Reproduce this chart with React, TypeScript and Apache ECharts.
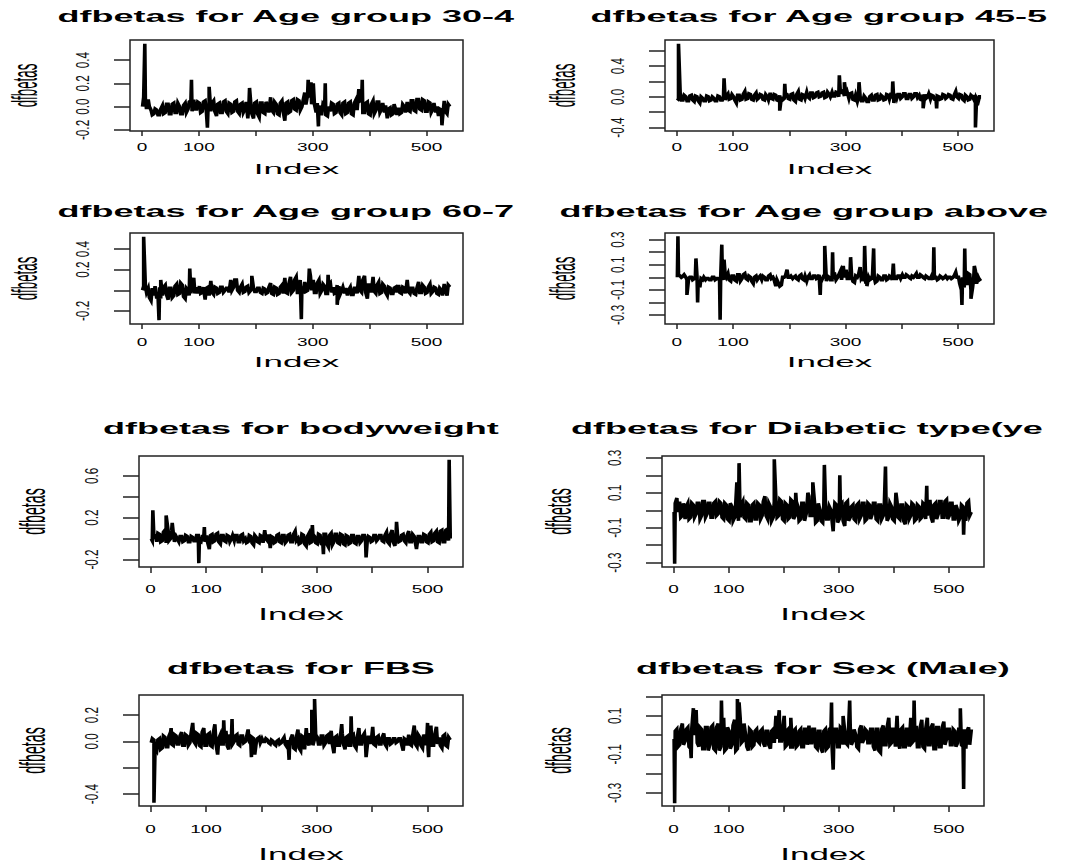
import React, { useEffect, useRef } from "react";
import * as echarts from "echarts";

// ---------------- data ----------------
// "A" values sit at Index 1, 6, 11, ... 541 ; "B" values at Index 3, 8, 13, ... 538 ;
// spikes are [Index, value]
const aStart = 1;
const bStart = 3;
const step = 5;

const a1 = [
  0.0, 0.07, 0.06, -0.03, -0.06, -0.03, -0.07, 0.01, -0.05, 0.02,
  -0.06, 0.03, -0.05, 0.0, -0.06, 0.03, -0.02, 0.05, 0.06, -0.02,
  0.03, -0.04, 0.05, -0.03, -0.04, 0.05, -0.08, 0.03, -0.05, 0.05,
  -0.06, 0.02, -0.04, 0.05, -0.06, 0.03, -0.02, -0.1, 0.04, -0.1,
  0.04, -0.09, 0.03, -0.06, 0.0, 0.08, -0.05, 0.02, -0.07, 0.05,
  -0.12, 0.04, -0.04, 0.06, -0.03, 0.05, 0.0, 0.12, 0.1, 0.08,
  0.2, -0.05, 0.01, -0.06, 0.0, -0.08, -0.04, 0.02, -0.05, 0.03,
  -0.07, 0.04, -0.05, 0.04, -0.07, 0.06, 0.15, 0.06, -0.05, 0.04,
  -0.07, 0.05, -0.03, 0.04, -0.02, -0.05, -0.1, -0.01, -0.06, -0.03,
  -0.01, -0.05, 0.0, 0.04, -0.04, 0.05, -0.04, 0.06, -0.03, 0.05,
  -0.04, 0.03, -0.02, -0.05, -0.08, -0.03, 0.05, -0.06, 0.0,
];
const b1 = [
  0.08, -0.02, 0.0, -0.07, -0.02, -0.07, -0.02, -0.06, 0.02, -0.06,
  0.02, -0.05, 0.03, -0.06, 0.01, -0.05, 0.04, -0.04, -0.02, 0.04,
  -0.05, 0.04, -0.03, 0.02, 0.03, -0.04, 0.02, -0.05, 0.04, -0.04,
  0.03, -0.05, 0.04, -0.04, 0.02, -0.05, 0.04, 0.02, -0.06, 0.03,
  -0.06, 0.03, -0.05, 0.04, -0.05, -0.03, 0.04, -0.06, 0.03, -0.04,
  0.03, -0.05, 0.05, -0.02, 0.06, -0.03, 0.05, 0.02, 0.13, 0.02,
  0.02, 0.03, -0.06, 0.02, -0.07, 0.0, 0.03, -0.06, 0.02, -0.05,
  0.03, -0.06, 0.03, -0.06, 0.03, -0.03, 0.05, -0.05, 0.03, -0.06,
  0.02, -0.06, 0.04, -0.05, 0.03, 0.01, -0.02, -0.07, 0.02, -0.07,
  -0.06, 0.02, -0.05, -0.03, 0.05, -0.03, 0.06, -0.02, 0.06, -0.04,
  0.04, -0.05, 0.03, 0.0, -0.02, -0.1, -0.04, 0.02,
];
const spikes1 = [[5, 0.54], [87, 0.23], [115, -0.18], [118, 0.17], [189, 0.16], [292, 0.23], [297, 0.21], [310, -0.17], [322, 0.2], [387, 0.23], [527, -0.16]];

const a2 = [
  -0.05, 0.05, -0.04, 0.0, -0.05, 0.02, -0.06, 0.0, -0.08, -0.02,
  -0.05, 0.0, -0.04, -0.02, -0.05, 0.0, -0.04, -0.04, 0.04, -0.02,
  0.0, -0.08, 0.02, -0.03, 0.07, -0.02, 0.03, -0.04, 0.05, -0.01,
  0.02, -0.04, 0.0, 0.05, -0.03, 0.02, -0.05, 0.0, -0.02, 0.03,
  -0.03, 0.04, -0.06, 0.07, -0.04, 0.02, 0.06, -0.02, 0.05, 0.0,
  0.06, 0.01, 0.06, 0.0, 0.03, 0.06, 0.01, 0.05, 0.04, 0.07,
  0.02, -0.02, 0.05, -0.04, -0.06, 0.0, -0.05, -0.02, -0.06, 0.02,
  -0.04, 0.03, -0.03, 0.0, -0.03, 0.02, 0.05, -0.08, -0.02, 0.03,
  0.0, 0.04, -0.02, 0.03, 0.0, 0.04, 0.02, -0.04, 0.03, 0.0,
  -0.03, 0.01, -0.04, 0.0, -0.02, 0.02, 0.0, 0.02, -0.03, 0.07,
  -0.02, 0.02, -0.05, 0.0, -0.03, 0.0, 0.02, -0.06, 0.0,
];
const b2 = [
  -0.03, -0.04, 0.02, -0.05, 0.01, -0.04, 0.01, -0.05, 0.0, -0.05,
  0.01, -0.05, 0.0, -0.05, 0.01, -0.04, 0.0, 0.01, -0.03, 0.03,
  -0.04, 0.02, -0.04, 0.03, -0.03, 0.04, -0.03, 0.02, -0.03, 0.03,
  -0.03, 0.03, -0.04, -0.02, 0.03, -0.04, 0.02, -0.04, 0.04, -0.02,
  0.03, -0.04, 0.03, -0.03, 0.03, -0.02, 0.0, 0.05, -0.01, 0.05,
  0.0, 0.05, -0.01, 0.06, 0.0, 0.01, 0.06, 0.0, 0.08, 0.01,
  0.06, 0.04, -0.03, 0.02, 0.0, -0.05, 0.01, -0.06, 0.0, -0.04,
  0.02, -0.04, 0.02, -0.04, 0.03, -0.03, -0.02, 0.04, 0.03, -0.02,
  0.04, -0.02, 0.03, -0.02, 0.04, -0.01, -0.03, 0.03, -0.02, 0.04,
  0.02, -0.03, 0.01, -0.03, 0.03, -0.02, 0.03, -0.02, 0.02, 0.0,
  0.03, -0.03, 0.02, -0.04, 0.02, -0.03, -0.02, 0.0,
];
const spikes2 = [[3, 0.69], [84, 0.24], [183, -0.18], [192, 0.17], [289, 0.28], [298, 0.19], [324, 0.19], [384, 0.2], [438, -0.15], [462, -0.15], [531, -0.4]];

const a3 = [
  0.0, 0.04, 0.02, -0.1, -0.05, -0.08, 0.03, -0.05, 0.05, -0.09,
  0.02, -0.05, 0.06, -0.03, 0.05, -0.08, 0.0, -0.03, 0.12, 0.03,
  0.04, -0.02, -0.09, 0.03, 0.09, -0.04, 0.02, -0.02, 0.03, 0.0,
  0.02, 0.1, 0.03, 0.1, -0.02, 0.06, -0.01, 0.04, 0.0, 0.02,
  -0.01, 0.02, -0.03, 0.01, -0.02, 0.07, -0.04, 0.02, -0.03, 0.05,
  0.12, -0.03, 0.13, 0.0, 0.13, -0.02, 0.04, 0.08, 0.0, 0.14,
  0.1, -0.02, 0.1, 0.0, 0.04, -0.03, 0.07, 0.03, -0.02, 0.04,
  0.0, -0.03, -0.05, 0.03, -0.04, 0.02, 0.14, -0.02, 0.14, -0.08,
  0.05, 0.13, -0.03, 0.08, -0.02, 0.04, -0.05, 0.02, -0.03, 0.03,
  0.05, -0.03, 0.02, 0.1, -0.03, 0.02, -0.04, 0.08, -0.02, 0.03,
  -0.02, 0.06, -0.01, 0.02, -0.04, 0.0, 0.06, -0.05, 0.03,
];
const b3 = [
  0.04, -0.02, -0.07, 0.02, 0.04, -0.02, -0.08, 0.03, -0.04, 0.02,
  -0.07, 0.04, -0.04, 0.07, -0.06, 0.02, -0.05, 0.06, -0.03, -0.03,
  -0.03, 0.03, 0.02, -0.05, -0.02, 0.03, -0.03, 0.03, -0.02, 0.02,
  -0.02, 0.0, 0.1, 0.0, 0.03, -0.02, 0.03, -0.02, 0.03, -0.01,
  0.02, -0.02, 0.02, -0.03, 0.03, -0.03, 0.03, -0.04, 0.03, -0.03,
  -0.02, 0.06, -0.02, 0.1, -0.02, 0.1, -0.03, -0.01, 0.08, 0.0,
  -0.02, 0.07, -0.03, 0.06, -0.03, 0.05, -0.02, -0.03, 0.05, -0.04,
  0.03, 0.02, 0.0, -0.04, 0.02, -0.03, 0.0, 0.1, -0.02, 0.05,
  -0.02, -0.01, 0.05, -0.03, 0.06, -0.02, 0.03, -0.03, 0.02, -0.02,
  -0.02, 0.03, -0.03, -0.01, 0.02, -0.03, 0.02, -0.02, 0.05, -0.03,
  0.03, -0.03, 0.03, -0.03, 0.02, -0.05, 0.0, 0.05,
];
const spikes3 = [[3, 0.52], [30, -0.29], [33, 0.1], [84, 0.21], [193, 0.14], [280, -0.28], [294, 0.21], [327, 0.15], [343, -0.14]];

const a4 = [
  0.0, 0.01, 0.01, 0.0, -0.01, 0.0, -0.01, 0.0, -0.08, -0.02,
  -0.02, -0.01, -0.02, 0.0, -0.01, -0.02, 0.0, 0.02, 0.03, -0.03,
  0.01, -0.03, 0.02, -0.01, 0.03, -0.02, 0.0, -0.05, 0.01, 0.0,
  -0.02, 0.0, -0.02, 0.02, 0.0, -0.07, -0.05, -0.06, 0.0, 0.06,
  0.0, -0.01, 0.01, -0.02, 0.02, -0.02, -0.03, 0.02, -0.01, 0.01,
  0.0, 0.0, 0.01, -0.03, 0.0, -0.02, 0.02, 0.0, 0.05, 0.09,
  0.06, -0.01, 0.0, -0.04, 0.0, 0.08, 0.01, -0.05, 0.0, -0.01,
  0.0, -0.03, 0.0, -0.02, 0.01, -0.01, 0.0, 0.02, -0.01, 0.01,
  0.02, 0.0, 0.01, -0.01, 0.0, 0.03, 0.0, 0.01, -0.01, 0.0,
  -0.01, -0.02, 0.0, -0.01, 0.0, 0.0, -0.01, 0.0, 0.0, 0.04,
  0.0, -0.1, -0.08, -0.06, 0.02, -0.08, 0.05, 0.0, -0.01,
];
const b4 = [
  0.02, 0.0, 0.02, -0.02, 0.0, -0.02, 0.01, -0.03, -0.01, 0.0,
  -0.01, -0.02, 0.0, -0.02, -0.01, 0.0, -0.02, 0.0, -0.02, 0.01,
  -0.02, 0.02, -0.03, 0.02, -0.01, 0.01, -0.03, 0.0, -0.02, 0.01,
  0.01, -0.02, 0.01, -0.01, -0.02, -0.02, -0.07, 0.0, 0.01, 0.0,
  0.01, 0.0, -0.01, 0.01, -0.01, 0.01, 0.0, -0.01, 0.01, -0.01,
  0.02, -0.02, 0.02, 0.01, -0.02, 0.01, -0.02, 0.02, -0.02, 0.0,
  -0.01, 0.03, -0.03, 0.01, 0.02, -0.01, -0.03, 0.02, -0.02, 0.02,
  -0.04, 0.01, -0.02, 0.01, -0.02, 0.01, -0.02, -0.01, 0.01, -0.01,
  0.0, 0.02, 0.0, 0.01, 0.01, 0.0, 0.02, 0.0, 0.01, -0.01,
  0.01, 0.0, -0.02, 0.01, -0.01, 0.01, 0.0, -0.01, 0.01, 0.0,
  -0.05, 0.0, -0.02, 0.03, -0.1, 0.0, -0.05, -0.02,
];
const spikes4 = [[2, 0.327], [18, -0.14], [34, 0.15], [37, -0.2], [77, -0.337], [80, 0.26], [84, 0.14], [255, -0.14], [263, 0.25], [277, 0.2], [309, 0.16], [334, 0.25], [338, -0.07], [350, 0.23], [385, 0.11], [457, 0.24], [507, -0.22], [512, 0.23], [523, -0.17], [529, 0.09]];

const a5 = [
  0.0, 0.0, -0.03, 0.04, -0.02, 0.08, 0.1, 0.0, 0.05, 0.02,
  -0.03, 0.02, -0.02, 0.02, -0.03, 0.01, -0.02, 0.03, -0.03, 0.02,
  0.03, -0.1, 0.04, -0.02, 0.05, -0.05, 0.03, -0.03, 0.02, 0.0,
  -0.02, 0.03, -0.03, 0.04, 0.0, -0.03, 0.02, -0.06, 0.01, -0.04,
  0.02, 0.08, -0.02, -0.09, 0.01, -0.03, 0.04, -0.04, 0.03, -0.02,
  0.04, -0.03, 0.07, 0.0, -0.04, 0.03, -0.07, 0.05, -0.03, 0.02,
  -0.05, 0.03, -0.06, 0.04, -0.08, 0.05, -0.03, 0.04, -0.05, 0.03,
  -0.06, 0.02, -0.04, 0.03, -0.05, 0.02, -0.02, 0.03, -0.03, 0.01,
  -0.02, 0.03, 0.0, 0.03, -0.03, 0.06, -0.05, 0.08, -0.07, 0.02,
  -0.02, 0.04, -0.04, 0.07, -0.03, 0.02, -0.06, 0.02, -0.03, 0.03,
  -0.04, 0.06, -0.02, 0.07, -0.04, 0.08, -0.03, 0.09, 0.0,
];
const b5 = [
  -0.02, 0.04, 0.05, -0.03, 0.06, -0.04, -0.02, 0.08, -0.03, 0.0,
  0.02, -0.03, 0.03, -0.03, 0.02, -0.02, 0.03, -0.02, 0.02, -0.03,
  -0.04, 0.03, -0.03, 0.04, -0.03, 0.03, -0.02, 0.03, -0.03, 0.03,
  0.03, -0.03, 0.03, -0.02, -0.04, 0.03, -0.04, 0.03, -0.03, 0.03,
  -0.04, 0.0, 0.04, 0.02, -0.04, 0.03, -0.03, 0.03, -0.04, 0.03,
  -0.03, 0.04, -0.02, -0.05, 0.04, -0.05, 0.02, -0.04, 0.04, -0.04,
  0.04, -0.05, 0.04, -0.05, 0.03, -0.06, 0.04, -0.04, 0.04, -0.05,
  0.03, -0.05, 0.03, -0.04, 0.02, -0.04, 0.03, -0.02, 0.02, -0.03,
  0.03, -0.02, 0.03, -0.02, 0.03, -0.03, 0.04, -0.03, 0.02, -0.03,
  0.03, -0.02, 0.03, -0.03, 0.04, -0.04, 0.02, -0.03, 0.04, -0.03,
  0.04, -0.03, 0.05, -0.03, 0.07, -0.03, 0.08, -0.02,
];
const spikes5 = [[4, 0.27], [28, 0.22], [39, 0.15], [87, -0.235], [97, 0.11], [292, 0.13], [312, -0.15], [389, -0.18], [444, 0.16], [480, -0.1], [539, 0.755]];

const a6 = [
  -0.01, 0.07, 0.05, -0.03, -0.05, 0.04, -0.04, 0.03, -0.02, 0.04,
  -0.03, 0.05, -0.02, 0.04, -0.04, 0.05, -0.02, 0.04, -0.05, 0.03,
  -0.06, 0.02, -0.04, 0.0, -0.04, 0.05, -0.05, 0.03, -0.06, 0.04,
  -0.05, 0.03, -0.03, 0.08, -0.05, 0.02, -0.04, 0.06, -0.03, 0.05,
  -0.06, 0.03, -0.04, 0.05, -0.03, 0.02, -0.05, 0.04, -0.02, 0.08,
  -0.03, 0.05, -0.06, 0.0, -0.07, 0.04, -0.05, 0.0, -0.04, 0.03,
  -0.05, 0.04, -0.09, 0.05, -0.04, 0.03, -0.06, 0.04, -0.03, 0.04,
  -0.05, 0.03, -0.02, 0.04, -0.06, 0.03, -0.03, 0.05, -0.04, 0.02,
  -0.06, 0.05, -0.05, 0.03, -0.08, 0.02, -0.03, 0.03, -0.05, 0.02,
  -0.04, 0.03, -0.03, 0.05, -0.07, 0.04, -0.02, 0.05, -0.04, 0.06,
  -0.03, 0.04, -0.05, 0.0, -0.04, 0.02, -0.06, 0.05, -0.01,
];
const b6 = [
  0.04, -0.01, -0.04, 0.04, 0.02, -0.05, 0.04, -0.04, 0.04, -0.05,
  0.05, -0.04, 0.04, -0.04, 0.04, -0.03, 0.05, -0.04, 0.04, -0.05,
  0.04, -0.06, 0.04, -0.06, 0.03, -0.04, 0.04, -0.06, 0.03, -0.05,
  0.04, -0.05, 0.05, -0.03, 0.04, -0.06, 0.05, -0.04, 0.06, -0.05,
  0.04, -0.05, 0.06, -0.05, 0.05, -0.06, 0.04, -0.06, 0.05, -0.03,
  0.05, -0.07, 0.04, -0.06, 0.03, -0.05, 0.02, -0.06, 0.04, -0.07,
  0.03, -0.06, 0.04, -0.06, 0.02, -0.05, 0.03, -0.05, 0.04, -0.06,
  0.04, -0.05, 0.04, -0.05, 0.03, -0.05, 0.04, -0.06, 0.04, -0.05,
  0.03, -0.04, 0.03, -0.06, 0.03, -0.05, 0.04, -0.06, 0.03, -0.05,
  0.04, -0.05, 0.05, -0.04, 0.03, -0.05, 0.05, -0.04, 0.05, -0.05,
  0.04, -0.05, 0.03, -0.06, 0.03, -0.04, 0.04, -0.03,
];
const spikes6 = [[2, -0.306], [115, 0.16], [119, 0.27], [183, 0.292], [222, 0.1], [244, 0.1], [253, 0.16], [274, 0.26], [290, -0.12], [302, 0.2], [385, 0.25], [404, 0.1], [460, 0.14], [527, -0.14]];

const a7 = [
  -0.01, 0.01, -0.07, 0.02, -0.05, 0.03, -0.04, 0.07, -0.03, 0.04,
  -0.02, 0.07, -0.03, 0.04, -0.01, 0.14, -0.02, 0.05, -0.04, 0.1,
  -0.03, 0.06, -0.04, 0.13, -0.1, 0.05, -0.02, 0.08, -0.06, 0.04,
  0.0, 0.05, -0.03, 0.04, 0.0, 0.09, -0.02, 0.02, 0.0, 0.03,
  0.02, 0.0, 0.01, -0.02, 0.0, -0.03, 0.01, -0.01, 0.03, -0.04,
  -0.02, 0.05, -0.06, 0.09, -0.07, 0.03, 0.1, -0.03, 0.05, 0.02,
  0.03, -0.02, 0.04, -0.01, 0.05, 0.08, -0.09, 0.04, -0.03, 0.06,
  -0.06, 0.04, -0.03, 0.05, -0.05, 0.1, -0.02, 0.06, -0.04, 0.03,
  0.11, -0.03, 0.04, -0.02, 0.06, -0.04, 0.02, -0.01, 0.02, 0.0,
  0.02, -0.07, 0.01, 0.05, -0.03, 0.12, -0.04, 0.03, -0.05, 0.02,
  -0.06, 0.12, -0.03, 0.11, 0.03, -0.05, 0.05, -0.04, 0.01,
];
const b7 = [
  0.02, -0.05, 0.01, -0.06, 0.04, -0.04, 0.04, -0.02, 0.05, -0.02,
  0.04, -0.03, 0.05, -0.03, 0.06, 0.0, 0.06, -0.03, 0.07, -0.03,
  0.05, -0.03, 0.06, -0.02, 0.02, -0.02, 0.05, -0.03, 0.04, -0.02,
  0.04, -0.02, 0.04, -0.01, 0.03, 0.0, 0.03, -0.1, 0.02, -0.01,
  0.0, 0.02, -0.01, 0.01, -0.02, 0.0, -0.02, 0.01, -0.02, 0.01,
  0.02, -0.05, 0.03, -0.05, 0.04, -0.06, 0.0, 0.05, -0.03, 0.05,
  -0.02, 0.04, -0.03, 0.04, -0.02, -0.02, 0.03, -0.03, 0.05, -0.02,
  0.03, -0.03, 0.04, -0.03, 0.03, -0.02, 0.04, -0.02, 0.03, -0.02,
  -0.02, 0.03, -0.02, 0.03, -0.02, 0.02, -0.02, 0.02, -0.01, 0.02,
  -0.02, 0.02, -0.03, -0.02, 0.04, -0.02, 0.05, -0.03, 0.05, -0.03,
  0.04, -0.03, 0.05, -0.02, -0.03, 0.04, -0.03, 0.03,
];
const spikes7 = [[6, -0.466], [37, 0.1], [132, 0.16], [147, 0.17], [182, -0.12], [250, -0.14], [291, 0.24], [296, 0.322], [345, 0.13], [362, 0.19], [389, -0.12], [500, 0.14], [502, -0.12]];

const a8 = [
  -0.02, 0.03, -0.05, 0.06, -0.03, 0.04, -0.07, 0.14, 0.13, -0.06,
  0.03, -0.07, 0.04, -0.05, 0.05, -0.08, 0.06, -0.06, 0.09, -0.07,
  0.02, -0.05, 0.08, -0.07, 0.09, -0.03, 0.0, -0.08, 0.02, -0.05,
  0.03, -0.04, 0.03, -0.06, 0.02, -0.07, 0.03, 0.1, 0.1, -0.03,
  0.1, -0.05, 0.04, -0.07, 0.03, -0.05, 0.03, -0.06, 0.03, 0.05,
  -0.04, 0.03, -0.07, 0.02, -0.09, 0.03, -0.06, 0.04, -0.04, 0.03,
  -0.06, 0.03, 0.02, -0.05, 0.04, -0.03, 0.0, -0.07, 0.05, -0.02,
  0.02, -0.04, 0.03, -0.08, 0.03, -0.09, 0.05, -0.05, 0.09, -0.04,
  0.03, 0.1, -0.07, 0.04, -0.06, 0.03, 0.09, -0.03, 0.04, -0.06,
  0.08, -0.07, 0.09, -0.05, 0.06, -0.07, 0.04, -0.06, 0.07, -0.02,
  0.03, -0.05, 0.02, -0.04, 0.03, -0.06, -0.07, 0.04, 0.03,
];
const b8 = [
  0.02, -0.06, 0.03, -0.05, 0.03, -0.06, 0.03, 0.0, -0.04, 0.04,
  -0.07, 0.04, -0.08, 0.04, -0.07, 0.04, -0.08, 0.05, -0.08, 0.04,
  -0.07, 0.05, -0.08, 0.04, -0.04, 0.06, -0.06, 0.03, -0.06, 0.02,
  -0.03, 0.02, -0.04, 0.02, -0.05, 0.02, -0.04, -0.02, -0.03, 0.03,
  -0.06, 0.03, -0.07, 0.02, -0.06, 0.02, -0.06, 0.03, -0.05, -0.04,
  0.03, -0.06, 0.02, -0.07, 0.02, -0.07, 0.03, -0.06, 0.03, -0.06,
  0.04, -0.05, -0.04, 0.04, -0.05, 0.03, -0.06, 0.03, -0.04, 0.03,
  -0.04, 0.03, -0.06, 0.03, -0.08, 0.03, -0.05, 0.04, -0.05, 0.03,
  -0.06, -0.04, 0.03, -0.06, 0.03, -0.06, -0.04, 0.04, -0.06, 0.04,
  -0.06, 0.03, -0.05, 0.04, -0.07, 0.04, -0.06, 0.04, -0.05, 0.03,
  -0.05, 0.03, -0.06, 0.03, -0.05, 0.03, 0.02, -0.05,
];
const spikes8 = [[2, -0.355], [32, -0.12], [87, 0.18], [116, 0.188], [119, 0.17], [192, 0.13], [213, 0.09], [287, 0.17], [290, -0.18], [308, 0.1], [320, 0.18], [437, 0.18], [521, 0.14], [527, -0.28]];

const titles = [
  "dfbetas for Age group 30-44",
  "dfbetas for Age group 45-59",
  "dfbetas for Age group 60-74",
  "dfbetas for Age group above 75",
  "dfbetas for bodyweight",
  "dfbetas for Diabetic type(yes)",
  "dfbetas for FBS",
  "dfbetas for Sex (Male)",
];

const xTicks = [0, 100, 200, 300, 400, 500];
const xTickLabels = [0, 100, 300, 500];
const xLabel = "Index";
const yLabel = "dfbetas";

const yTicks = [
  [-0.2, 0.0, 0.2, 0.4],
  [-0.4, -0.2, 0.0, 0.2, 0.4, 0.6],
  [-0.2, 0.0, 0.2, 0.4],
  [-0.3, -0.2, -0.1, 0.0, 0.1, 0.2, 0.3],
  [-0.2, 0.0, 0.2, 0.4, 0.6],
  [-0.3, -0.2, -0.1, 0.0, 0.1, 0.2, 0.3],
  [-0.4, -0.2, 0.0, 0.2],
  [-0.3, -0.2, -0.1, 0.0, 0.1, 0.2],
];
const yTickLabels = [
  [-0.2, 0.0, 0.2, 0.4],
  [-0.4, 0.0, 0.4],
  [-0.2, 0.2, 0.4],
  [-0.3, -0.1, 0.1, 0.3],
  [-0.2, 0.2, 0.6],
  [-0.3, -0.1, 0.1, 0.3],
  [-0.4, 0.0, 0.2],
  [-0.3, -0.1, 0.1],
];
const yRanges = [
  [-0.209, 0.572],
  [-0.445, 0.74],
  [-0.327, 0.556],
  [-0.372, 0.353],
  [-0.272, 0.79],
  [-0.325, 0.311],
  [-0.491, 0.352],
  [-0.369, 0.209],
];
const xRange = [-21, 564];

const aVals = [a1, a2, a3, a4, a5, a6, a7, a8];
const bVals = [b1, b2, b3, b4, b5, b6, b7, b8];
const spikes = [spikes1, spikes2, spikes3, spikes4, spikes5, spikes6, spikes7, spikes8];

// ---------------- layout ----------------
const grids = [
  { left: 130, top: 40, width: 333, height: 91 },
  { left: 665, top: 40, width: 329, height: 91 },
  { left: 130, top: 233, width: 333, height: 91 },
  { left: 665, top: 233, width: 329, height: 91 },
  { left: 139, top: 456, width: 324, height: 111 },
  { left: 662, top: 456, width: 322, height: 111 },
  { left: 139, top: 695, width: 324, height: 111 },
  { left: 662, top: 695, width: 322, height: 111 },
];
const titleY = [17, 212, 429, 669];
const xLabY = [147, 342, 589, 829];
const indexY = [169, 362, 614, 854];
const xTickScale = [0.54, 0.54, 0.62, 0.62];
const indexScale = [0.43, 0.43, 0.49, 0.49];
const yLabScale = [0.37, 0.37, 0.395, 0.395];
const xTickLen = [5, 5, 6, 6];
const titleClip = [530, 1060];
const yLabOffset = [106, 103];

const FONT = '"Liberation Sans", Arial, Helvetica, sans-serif';
const TITLE_FS = 36;

function buildSeries(a: number[], b: number[], sp: number[][]) {
  const pts: number[][] = [];
  a.forEach((v, i) => pts.push([aStart + i * step, v]));
  b.forEach((v, i) => pts.push([bStart + i * step, v]));
  sp.forEach((s) => pts.push([s[0], s[1]]));
  pts.sort((p, q) => p[0] - q[0]);
  return pts;
}

function measure(text: string, font: string) {
  const c = document.createElement("canvas").getContext("2d");
  if (!c) return text.length * 20;
  c.font = font;
  return c.measureText(text).width;
}

export default function App() {
  const ref = useRef<HTMLDivElement>(null);
  useEffect(() => {
    const el = ref.current;
    if (!el) return;
    const chart = echarts.init(el, null, { renderer: "svg" });

    const gridOpts = grids.map((g) => ({
      ...g,
      show: true,
      borderColor: "#222",
      borderWidth: 1.5,
      backgroundColor: "transparent",
      containLabel: false,
    }));
    const xAxes = grids.map((_, i) => ({
      type: "value",
      gridIndex: i,
      min: xRange[0],
      max: xRange[1],
      axisLine: { show: false, onZero: false },
      splitLine: { show: false },
      axisLabel: { show: false, customValues: xTicks },
      axisTick: {
        show: true,
        inside: false,
        length: xTickLen[Math.floor(i / 2)],
        customValues: xTicks,
        lineStyle: { color: "#222", width: 1.5 },
      },
    }));
    const yAxes = grids.map((_, i) => ({
      type: "value",
      gridIndex: i,
      min: yRanges[i][0],
      max: yRanges[i][1],
      axisLine: { show: false, onZero: false },
      splitLine: { show: false },
      axisLabel: { show: false, customValues: yTicks[i] },
      axisTick: {
        show: true,
        inside: false,
        length: 16,
        customValues: yTicks[i],
        lineStyle: { color: "#222", width: 1.5 },
      },
    }));
    const series = grids.map((_, i) => ({
      type: "line",
      xAxisIndex: i,
      yAxisIndex: i,
      data: buildSeries(aVals[i], bVals[i], spikes[i]),
      showSymbol: false,
      symbol: "none",
      silent: true,
      lineStyle: { color: "#000", width: 3.6, join: "miter" },
    }));

    chart.setOption({
      animation: false,
      backgroundColor: "#fff",
      grid: gridOpts,
      xAxis: xAxes,
      yAxis: yAxes,
      series,
    });

    const elements: any[] = [];
    const titleFont = `bold ${TITLE_FS}px ${FONT}`;
    grids.forEach((g, i) => {
      const row = Math.floor(i / 2);
      const col = i % 2;
      const cx = g.left + g.width / 2;
      const cy = g.top + g.height / 2;
      const tw = measure(titles[i], titleFont);
      const start = cx - tw / 2;
      elements.push({
        type: "text",
        x: start,
        y: titleY[row],
        scaleY: 0.44,
        silent: true,
        style: {
          text: titles[i],
          fontSize: TITLE_FS,
          fontWeight: "bold",
          fontFamily: FONT,
          fill: "#000",
          align: "left",
          verticalAlign: "middle",
          textAlign: "left",
          textVerticalAlign: "middle",
          width: titleClip[col] - start,
          overflow: "truncate",
          ellipsis: "",
        },
      });
      elements.push({
        type: "text",
        x: cx,
        y: indexY[row],
        scaleY: indexScale[row],
        silent: true,
        style: {
          text: xLabel,
          fontSize: 35,
          fontFamily: FONT,
          fill: "#000",
          align: "center",
          verticalAlign: "middle",
          textAlign: "center",
          textVerticalAlign: "middle",
        },
      });
      elements.push({
        type: "text",
        x: g.left - yLabOffset[col],
        y: cy,
        rotation: Math.PI / 2,
        scaleX: yLabScale[row],
        silent: true,
        style: {
          text: yLabel,
          fontSize: 36,
          fontFamily: FONT,
          fill: "#000",
          align: "center",
          verticalAlign: "middle",
          textAlign: "center",
          textVerticalAlign: "middle",
        },
      });
      xTickLabels.forEach((v) => {
        const p = chart.convertToPixel({ gridIndex: i }, [v, yRanges[i][0]]) as number[];
        elements.push({
          type: "text",
          x: p[0],
          y: xLabY[row],
          scaleY: xTickScale[row],
          silent: true,
          style: {
            text: String(v),
            fontSize: 19,
            fontFamily: FONT,
            fill: "#000",
            align: "center",
            verticalAlign: "middle",
            textAlign: "center",
            textVerticalAlign: "middle",
          },
        });
      });
      yTickLabels[i].forEach((v) => {
        const p = chart.convertToPixel({ gridIndex: i }, [0, v]) as number[];
        elements.push({
          type: "text",
          x: g.left - 48,
          y: p[1],
          rotation: Math.PI / 2,
          scaleX: 0.62,
          silent: true,
          style: {
            text: v.toFixed(1),
            fontSize: 19,
            fontFamily: FONT,
            fill: "#111",
            align: "center",
            verticalAlign: "middle",
            textAlign: "center",
            textVerticalAlign: "middle",
          },
        });
      });
    });

    chart.setOption({ graphic: { elements } });

    return () => {
      chart.dispose();
    };
  }, []);

  return (
    <div
      ref={ref}
      style={{ position: "absolute", left: 0, top: 0, width: 1083, height: 865, background: "#fff" }}
    />
  );
}
